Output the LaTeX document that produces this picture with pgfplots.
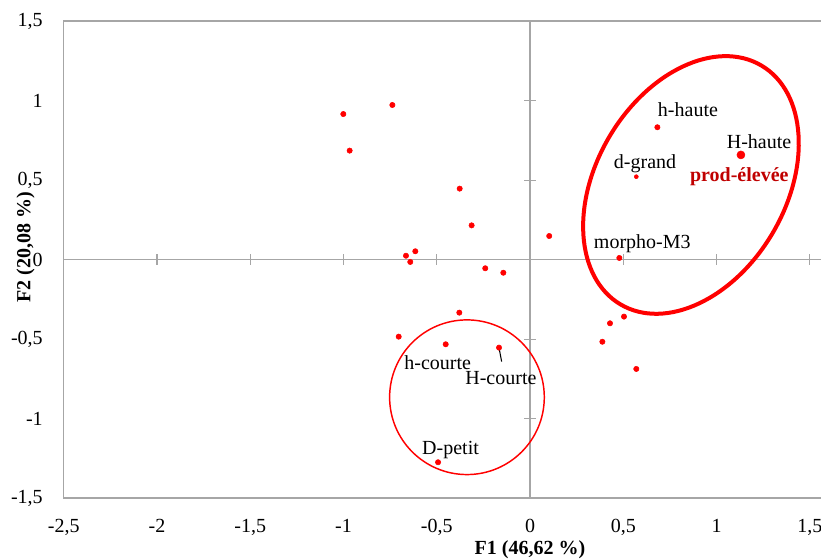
\documentclass[border=0pt]{standalone}
\usepackage{fontspec}
\setmainfont{Liberation Serif}
\usepackage{pgfplots}
\pgfplotsset{compat=1.18}
\newcommand\f{\fontsize{15}{18}\selectfont}
\definecolor{axgray}{HTML}{A6A6A6}
\definecolor{darkred}{HTML}{C00000}
\begin{document}
\begin{tikzpicture}
\useasboundingbox (-47.81pt,-46.35pt) rectangle (567.94pt,373.65pt);
\begin{axis}[
  at={(0,0)}, anchor=south west,
  scale only axis, width=567.94pt, height=357.75pt,
  xmin=-2.5, xmax=1.5603, ymin=-1.5, ymax=1.5,
  axis line style={draw=none},
  major tick length=0pt,
  xtick={-2.5,-2,-1.5,-1,-0.5,0,0.5,1,1.5},
  ytick={-1.5,-1,-0.5,0,0.5,1,1.5},
  /pgf/number format/use comma,
  /pgf/number format/assume math mode=true,
  tick label style={font=\f, inner sep=0pt},
  xticklabel style={anchor=base, yshift=-25.4pt},
  yticklabel style={anchor=east, xshift=-15.6pt},
  clip=false,
]
% frame
\draw[axgray, line width=1.1pt] (rel axis cs:1,1) -- (rel axis cs:0,1) -- (rel axis cs:0,0) -- (rel axis cs:1,0);
% zero lines
\draw[axgray, line width=1.1pt] (axis cs:-2.5,0) -- (axis cs:1.5603,0);
\draw[axgray, line width=1.1pt] (axis cs:0,-1.5) -- (axis cs:0,1.5);
\pgfplotsinvokeforeach{-2.5,-2,-1.5,-1,-0.5,0.5,1,1.5}{
  \draw[axgray, line width=1pt] ([yshift=-3.9pt]axis cs:#1,0) -- ([yshift=3.9pt]axis cs:#1,0);
}
\pgfplotsinvokeforeach{-1.5,-1,-0.5,0.5,1,1.5}{
  \draw[axgray, line width=1pt] ([xshift=-4.5pt]axis cs:0,#1) -- ([xshift=4.5pt]axis cs:0,#1);
}
% points
\addplot[only marks, mark=*, mark size=2pt, color=red, mark options={draw=red, fill=red}] table {
x y
-1.001 0.916
-0.738 0.973
-0.967 0.686
-0.377 0.447
-0.313 0.216
0.103 0.149
-0.665 0.025
-0.615 0.053
-0.642 -0.014
-0.240 -0.054
-0.143 -0.082
-0.379 -0.333
-0.704 -0.484
-0.452 -0.532
-0.166 -0.553
-0.493 -1.274
0.429 -0.400
0.504 -0.358
0.388 -0.516
0.570 -0.687
0.479 0.011
0.683 0.833
};
\addplot[only marks, mark=*, mark size=1.5pt, color=red, mark options={draw=red, fill=red}] table {
x y
0.570 0.522
};
\addplot[only marks, mark=*, mark size=3pt, color=red, mark options={draw=red, fill=red}] table {
x y
1.131 0.659
};
% ellipses
\draw[red, line width=3pt, rotate around={59.5:(axis cs:0.863,0.470)}] (axis cs:0.863,0.470) ellipse [x radius=104pt, y radius=71.1pt];
\draw[red, line width=1.1pt] (axis cs:-0.338,-0.865) circle [radius=58pt];
% leader
\draw[black, line width=0.8pt] (axis cs:-0.166,-0.555) -- (axis cs:-0.152,-0.641);
% labels
\node[font=\f] at (axis cs:0.847,0.941) {h-haute};
\node[font=\f] at (axis cs:1.228,0.742) {H-haute};
\node[font=\f] at (axis cs:0.617,0.606) {d-grand};
\node[font=\f\bfseries, text=darkred] at (axis cs:1.122,0.522) {prod-élevée};
\node[font=\f] at (axis cs:0.602,0.099) {morpho-M3};
\node[font=\f] at (axis cs:-0.495,-0.648) {h-courte};
\node[font=\f] at (axis cs:-0.156,-0.744) {H-courte};
\node[font=\f] at (axis cs:-0.426,-1.197) {D-petit};
% axis titles
\node[font=\f\bfseries] at ([yshift=-38.85pt]axis cs:0,-1.5) {F1 (46,62 \%)};
\node[font=\f\bfseries, rotate=90] at ([xshift=-28.7pt]axis cs:-2.5,0.08) {F2 (20,08 \%)};
\end{axis}
\end{tikzpicture}
\end{document}
